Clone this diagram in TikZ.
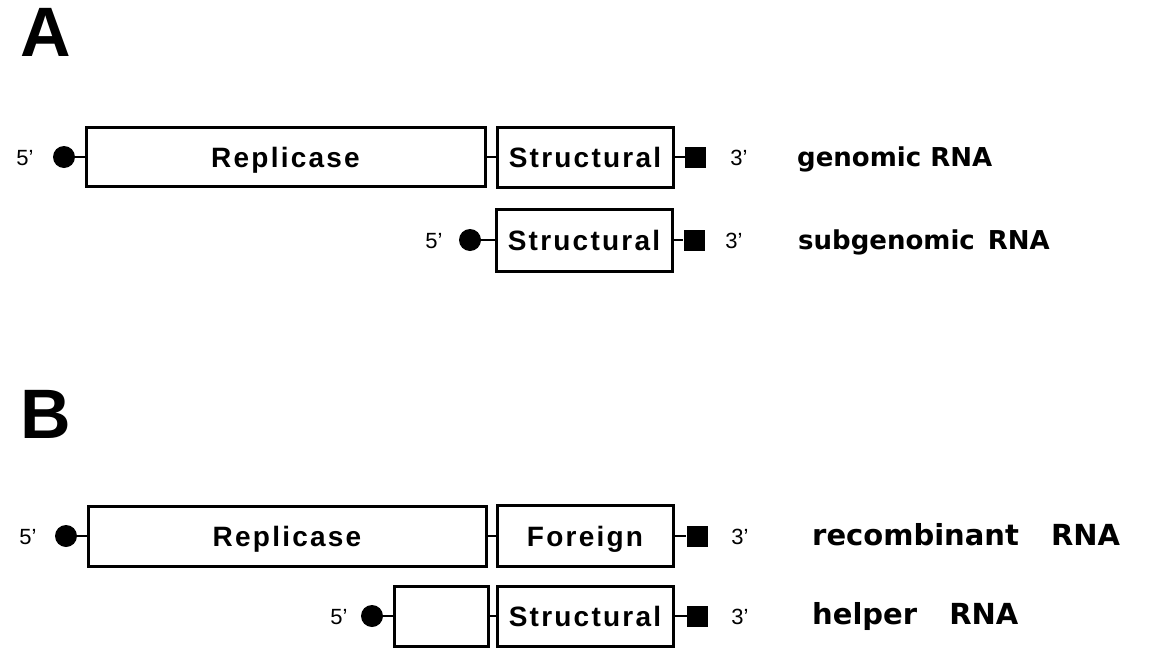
\documentclass[tikz,border=0pt]{standalone}
\usepackage{fontspec}
\setmainfont{Liberation Sans}
\newfontfamily\boxfont{Liberation Sans}[LetterSpace=8]
\newfontfamily\lblfont{DejaVu Sans}
\begin{document}
\begin{tikzpicture}[x=1pt,y=-1pt,
  gbox/.style={draw, line width=3pt, rectangle, inner sep=0pt,
    minimum width=176pt, minimum height=60pt,
    font=\boxfont\bfseries\fontsize{28}{30}\selectfont,
    text height=20pt, text depth=0pt},
  dot/.style={circle, fill=black, inner sep=0pt, minimum size=22pt},
  sq/.style={rectangle, fill=black, inner sep=0pt, minimum size=21pt},
  conn/.style={line width=2.2pt},
  endlbl/.style={inner sep=0pt, font=\fontsize{22}{24}\selectfont,
    text height=16pt, text depth=0pt},
  rnaA/.style={anchor=west, inner sep=0pt, font=\lblfont\bfseries\fontsize{26}{30}\selectfont,
    text height=19pt, text depth=0pt},
  rnaB/.style={anchor=west, inner sep=0pt, font=\lblfont\bfseries\fontsize{29}{33}\selectfont,
    text height=21pt, text depth=0pt},
  panel/.style={anchor=base west, inner sep=0pt, font=\bfseries\fontsize{70}{72}\selectfont}
]
\useasboundingbox (0,0) rectangle (1160,648);

% Panel labels
\node[panel] (pA) at (20,56) {A};
\node[panel] (pB) at (20,438) {B};

% ---- Row A1: genomic RNA
\node[endlbl] (f1) at (25,157) {5’};
\node[dot] (c1) at (64,157) {};
\node[gbox, minimum width=399pt, minimum height=59pt] (rep1) at (285.5,157) {Replicase};
\node[gbox] (str1) at (585,157) {Structural};
\node[sq] (s1) at (695.5,157) {};
\node[endlbl] (t1) at (739,157) {3’};
\node[rnaA] (l1) at (797,157) {genomic RNA};
\draw[conn] (c1) -- (rep1.west);
\draw[conn] (rep1.east) -- (str1.west);
\draw[conn] (str1.east) -- (s1);

% ---- Row A2: subgenomic RNA
\node[endlbl] (f2) at (434,240) {5’};
\node[dot] (c2) at (470,240) {};
\node[gbox, minimum height=62pt] (str2) at (584,240) {Structural};
\node[sq] (s2) at (694,240) {};
\node[endlbl] (t2) at (734,240) {3’};
\node[rnaA] (l2) at (798,240) {subgenomic\hspace{4pt} RNA};
\draw[conn] (c2) -- (str2.west);
\draw[conn] (str2.east) -- (s2);

% ---- Row B1: recombinant RNA
\node[endlbl] (f3) at (28,536) {5’};
\node[dot] (c3) at (66,536) {};
\node[gbox, minimum width=398pt] (rep3) at (287,536) {Replicase};
\node[gbox, minimum height=61pt] (for3) at (585,536) {Foreign};
\node[sq] (s3) at (697,536) {};
\node[endlbl] (t3) at (740,536) {3’};
\node[rnaB] (l3) at (812,535) {recombinant\hspace{22pt} RNA};
\draw[conn] (c3) -- (rep3.west);
\draw[conn] (rep3.east) -- (for3.west);
\draw[conn] (for3.east) -- (s3);

% ---- Row B2: helper RNA
\node[endlbl] (f4) at (339,616) {5’};
\node[dot] (c4) at (372,616) {};
\node[gbox, minimum width=94pt] (emp4) at (441,616) {};
\node[gbox] (str4) at (585,616) {Structural};
\node[sq] (s4) at (697.5,616) {};
\node[endlbl] (t4) at (740,616) {3’};
\node[rnaB] (l4) at (812,614) {helper\hspace{22pt} RNA};
\draw[conn] (c4) -- (emp4.west);
\draw[conn] (emp4.east) -- (str4.west);
\draw[conn] (str4.east) -- (s4);
\end{tikzpicture}
\end{document}
